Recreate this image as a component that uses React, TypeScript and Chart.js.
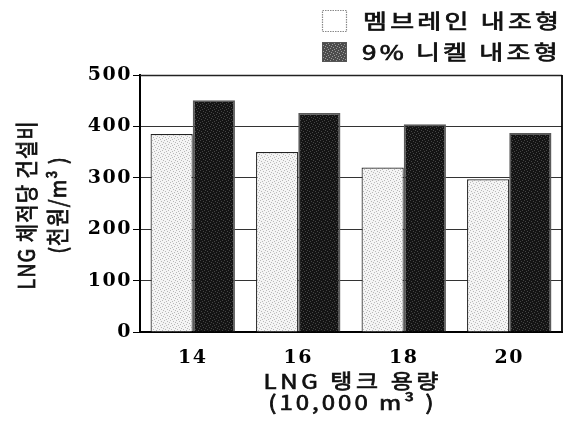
import React, { useEffect, useRef } from 'react';
import { Chart, registerables } from 'chart.js';

Chart.register(...registerables);

const categories = ['14', '16', '18', '20'];
const membraneValues = [385, 350, 320, 297];
const nickelValues = [451, 426, 404, 387];
const yTickValues = [0, 100, 200, 300, 400, 500];
const legendLabels = ['멤브레인 내조형', '9% 니켈 내조형'];
const yTitleLines = ['LNG 체적당 건설비', '(천원/m³ )'];
const xTitleLines = ['LNG 탱크 용량', '(10,000 m³ )'];

const SANS = '"Noto Sans CJK KR", "Noto Sans", sans-serif';
const SERIF = '"DejaVu Serif", "Liberation Serif", serif';

const DOTS: Array<[number, number]> = [
  [0, 0], [3, 1], [1, 3], [4, 4], [2, 5], [5, 2],
];

function makePattern(base: string, dot: string): CanvasPattern | string {
  const c = document.createElement('canvas');
  c.width = 6;
  c.height = 6;
  const g = c.getContext('2d');
  if (!g) return base;
  g.fillStyle = base;
  g.fillRect(0, 0, 6, 6);
  g.fillStyle = dot;
  DOTS.forEach(([x, y]) => g.fillRect(x, y, 1, 1));
  const p = g.createPattern(c, 'repeat');
  return p || base;
}

type TextOpts = {
  size: number;
  spacing: number;
  sx?: number;
  sy?: number;
  align: CanvasTextAlign;
  rotate?: boolean;
};

function drawText(ctx: any, text: string, x: number, y: number, o: TextOpts) {
  ctx.save();
  ctx.translate(x, y);
  if (o.rotate) ctx.rotate(-Math.PI / 2);
  ctx.scale(o.sx ?? 1, o.sy ?? 1);
  ctx.font = `normal ${o.size}px ${SANS}`;
  ctx.letterSpacing = `${o.spacing}px`;
  ctx.textAlign = o.align;
  ctx.textBaseline = 'middle';
  ctx.fillStyle = '#111';
  ctx.strokeStyle = '#111';
  ctx.lineWidth = 0.7;
  const dx = o.align === 'center' ? o.spacing / 2 : 0;
  ctx.fillText(text, dx, 0);
  ctx.strokeText(text, dx, 0);
  ctx.restore();
}

export default function App() {
  const ref = useRef<HTMLCanvasElement | null>(null);

  useEffect(() => {
    if (!ref.current) return;
    const lightPat = makePattern('#f4f4f4', '#b8b8b8');
    const darkPat = makePattern('#141414', '#454545');
    const legendDark = makePattern('#4c4c4c', '#9a9a9a');

    const decor = {
      id: 'decor',
      beforeDraw(chart: any) {
        chart.ctx.letterSpacing = '1.5px';
      },
      afterDatasetsDraw(chart: any) {
        const { ctx, chartArea } = chart;
        ctx.save();
        ctx.strokeStyle = '#222';
        ctx.lineWidth = 1.5;
        ctx.beginPath();
        ctx.moveTo(chartArea.left, chartArea.top + 0.5);
        ctx.lineTo(chartArea.right, chartArea.top + 0.5);
        ctx.stroke();
        ctx.strokeStyle = '#000';
        ctx.lineWidth = 1.8;
        ctx.beginPath();
        ctx.moveTo(chartArea.right, chartArea.top);
        ctx.lineTo(chartArea.right, chartArea.bottom);
        ctx.stroke();
        ctx.restore();
      },
      afterDraw(chart: any) {
        const { ctx, chartArea } = chart;
        ctx.save();
        ctx.letterSpacing = '0px';
        // legend boxes
        ctx.fillStyle = '#fff';
        ctx.fillRect(314, 2, 25, 22);
        ctx.strokeStyle = '#8a8a8a';
        ctx.lineWidth = 1.2;
        ctx.setLineDash([1.5, 1]);
        ctx.strokeRect(314.5, 2.5, 24, 21);
        ctx.setLineDash([]);
        ctx.fillStyle = legendDark;
        ctx.fillRect(314, 34, 25, 20);
        ctx.strokeStyle = '#555';
        ctx.lineWidth = 1;
        ctx.strokeRect(314.5, 34.5, 24, 19);
        ctx.restore();
        drawText(ctx, legendLabels[0], 355, 13, { size: 20, spacing: 2.5, sx: 1.3, align: 'left' });
        drawText(ctx, legendLabels[1], 354, 44, { size: 20, spacing: 2.5, sx: 1.3, align: 'left' });

        // y title (rotated)
        const cy = (chartArea.top + chartArea.bottom) / 2 + 2;
        drawText(ctx, yTitleLines[0], 18, cy, { size: 20, spacing: 1, sy: 1.12, align: 'center', rotate: true });
        drawText(ctx, yTitleLines[1], 49.5, cy, { size: 20, spacing: 1, sy: 1.12, align: 'center', rotate: true });

        // x title
        const cx = (chartArea.left + chartArea.right) / 2;
        drawText(ctx, xTitleLines[0], cx, 373, { size: 20, spacing: 3, sx: 1.2, align: 'center' });
        drawText(ctx, xTitleLines[1], cx, 394, { size: 20, spacing: 2.5, sx: 1.2, align: 'center' });
      },
    };

    const chart = new Chart(ref.current, {
      type: 'bar',
      data: {
        labels: categories,
        datasets: [
          {
            label: legendLabels[0],
            data: membraneValues,
            backgroundColor: lightPat as any,
            borderColor: '#222',
            borderWidth: 1.2,
            categoryPercentage: 0.8,
            barPercentage: 1.0,
          },
          {
            label: legendLabels[1],
            data: nickelValues,
            backgroundColor: darkPat as any,
            borderColor: '#5a5a5a',
            borderWidth: 1.8,
            categoryPercentage: 0.8,
            barPercentage: 1.0,
          },
        ],
      },
      options: {
        animation: false,
        responsive: true,
        maintainAspectRatio: false,
        layout: { padding: { top: 67, right: 4, left: 0, bottom: 0 } },
        plugins: {
          legend: { display: false },
          tooltip: { enabled: false },
          title: { display: false },
        },
        scales: {
          x: {
            grid: { display: false, drawTicks: false },
            border: { display: true, color: '#000', width: 2 },
            ticks: {
              color: '#000',
              padding: 15,
              font: { family: SERIF, size: 19, weight: 'bold' },
            },
            afterFit(scale: any) {
              scale.height = 94;
            },
          },
          y: {
            min: 0,
            max: 500,
            afterBuildTicks(scale: any) {
              scale.ticks = yTickValues.map((v) => ({ value: v }));
            },
            grid: {
              color: '#333',
              lineWidth: 1,
              drawTicks: true,
              tickLength: 7,
              tickColor: '#000',
            },
            border: { display: true, color: '#000', width: 2 },
            ticks: {
              color: '#000',
              padding: 1,
              font: { family: SERIF, size: 19, weight: 'bold' },
            },
            afterFit(scale: any) {
              scale.width = 132;
            },
          },
        },
      },
      plugins: [decor],
    });
    return () => chart.destroy();
  }, []);

  return (
    <div style={{ width: 558, height: 418, position: 'relative' }}>
      <canvas ref={ref} />
    </div>
  );
}
